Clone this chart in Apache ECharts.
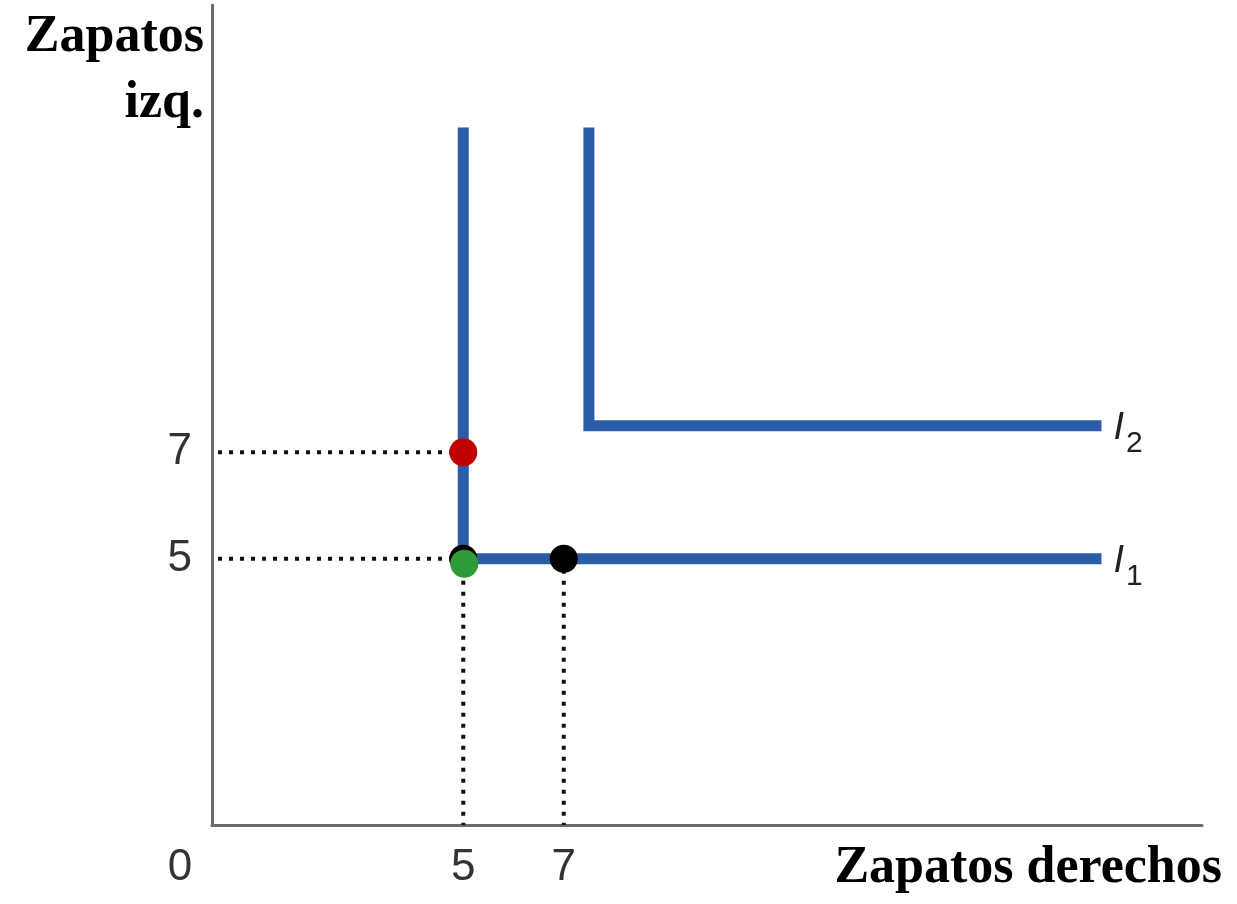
<!DOCTYPE html>
<html><head><meta charset="utf-8">
<script src="https://cdn.jsdelivr.net/npm/echarts@6/dist/echarts.min.js"></script>
<style>html,body{margin:0;padding:0;background:#fff}#c{width:1237px;height:904px}</style>
</head><body><div id="c"></div>
<script>
const xTickLabels = [0, 5, 7];
const yTickLabels = [5, 7];
const curveI1 = [[5, 13.1], [5, 5], [17.7, 5]];
const curveI2 = [[7.5, 13.1], [7.5, 7.5], [17.7, 7.5]];
const pointRed = [[5, 7]];
const pointBlack = [[5, 5], [7, 5]];
const pointGreen = [[5, 5]];
const guideY7 = [[0.12, 7], [5, 7]];
const guideY5 = [[0.12, 5], [5, 5]];
const guideX5 = [[5, 5], [5, 0]];
const guideX7 = [[7, 5], [7, 0]];
const curveNames = ['1', '2'];

const chart = echarts.init(document.getElementById('c'));
const blue = '#2a5caa';
const dotted = { color: '#111', width: 4, type: [4, 7] };
function guide(d) {
  return { type: 'line', data: d, symbol: 'none', silent: true, lineStyle: dotted, z: 1 };
}
function curve(d, name) {
  return {
    type: 'line', data: d, symbol: 'none',
    lineStyle: { color: blue, width: 11, cap: 'butt', join: 'miter' }, z: 3,
    endLabel: {
      show: true, distance: 12, offset: [0, 5],
      formatter: '{i|I}{s|' + name + '}',
      rich: {
        i: { fontFamily: 'Liberation Sans', fontStyle: 'italic', fontSize: 38, color: '#222', padding: [0, 0, 4, 0] },
        s: { fontFamily: 'Liberation Sans', fontSize: 30, color: '#222', padding: [26, 0, 0, 2] }
      }
    }
  };
}
chart.setOption({
  animation: false,
  grid: { left: 212, right: 35, top: 5, bottom: 79, containLabel: false },
  xAxis: {
    type: 'value', min: 0, max: 19.7, interval: 1,
    splitLine: { show: false }, axisTick: { show: false },
    axisLine: { lineStyle: { color: '#6a6a6a', width: 3 } },
    axisLabel: {
      margin: 21, fontFamily: 'Liberation Sans', fontSize: 44, color: '#333',
      showMaxLabel: false,
      formatter: v => v === 0 ? '{z|0}' : (xTickLabels.includes(v) ? String(v) : ''),
      rich: { z: { fontFamily: 'Liberation Sans', fontSize: 44, color: '#333', padding: [0, 64, 0, 0] } }
    },
    name: 'Zapatos derechos', nameLocation: 'end', nameGap: 20,
    nameTextStyle: { fontFamily: 'Liberation Serif', fontWeight: 'bold', fontSize: 52, color: '#000', align: 'right', verticalAlign: 'top', padding: [18, 0, 0, 0] }
  },
  yAxis: {
    type: 'value', min: 0, max: 15.4, interval: 1,
    splitLine: { show: false }, axisTick: { show: false },
    axisLine: { lineStyle: { color: '#6a6a6a', width: 3 } },
    axisLabel: {
      margin: 20, fontFamily: 'Liberation Sans', fontSize: 44, color: '#333', padding: [4, 0, 0, 0],
      formatter: v => yTickLabels.includes(v) ? String(v) : ''
    },
    name: 'Zapatos\nizq.', nameLocation: 'end', nameGap: 0,
    nameTextStyle: { fontFamily: 'Liberation Serif', fontWeight: 'bold', fontSize: 52, lineHeight: 66, color: '#000', align: 'right', verticalAlign: 'top', padding: [0, 8, 0, 0] }
  },
  series: [
    guide(guideY7), guide(guideY5), guide(guideX5), guide(guideX7),
    curve(curveI1, curveNames[0]), curve(curveI2, curveNames[1]),
    { type: 'scatter', data: pointBlack, symbolSize: 28, itemStyle: { color: '#000', opacity: 1 }, z: 4 },
    { type: 'scatter', data: pointRed, symbolSize: 28, itemStyle: { color: '#c00000', opacity: 1 }, z: 5 },
    { type: 'scatter', data: pointGreen, symbolSize: 28, symbolOffset: [1, 5], itemStyle: { color: '#2f9a3a', opacity: 1 }, z: 5 }
  ]
});
</script></body></html>
